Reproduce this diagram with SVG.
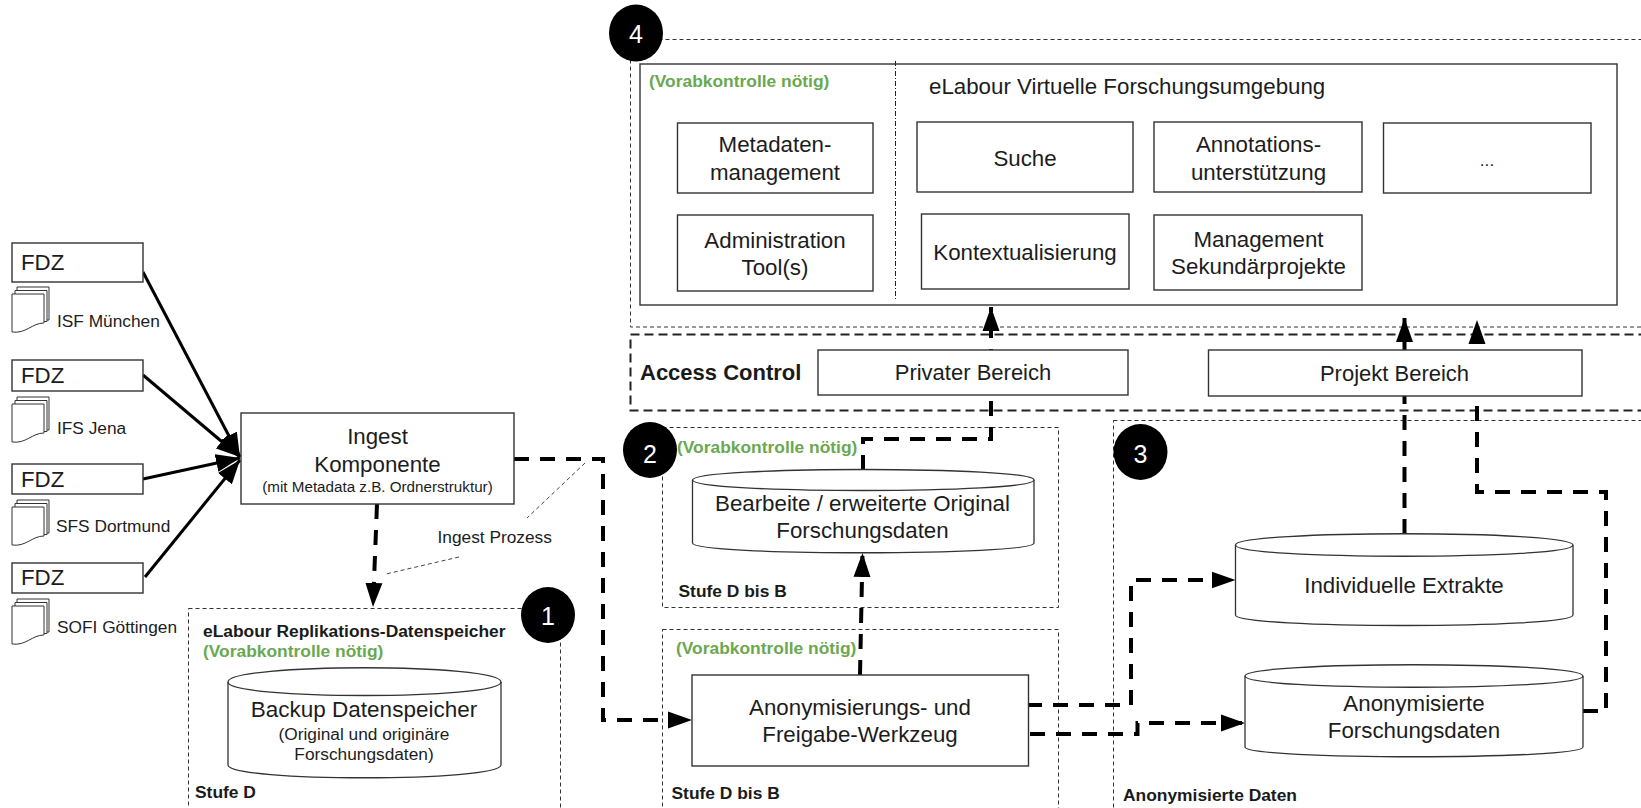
<svg xmlns="http://www.w3.org/2000/svg" width="1641" height="808" viewBox="0 0 1641 808">
<style>
text{font-family:"Liberation Sans",Arial,sans-serif;fill:#1c1c1c}
.m{text-anchor:middle}
.t22{font-size:22.300px}
.t17{font-size:17.300px}
.b{font-weight:bold;font-size:17.400px;fill:#1a1a1a}
.g{font-weight:bold;font-size:17.400px;fill:#6aa84f}
.box{fill:#fff;stroke:#333;stroke-width:1.4}
.zone{fill:none;stroke:#333;stroke-width:1;stroke-dasharray:4 3}
.ac{fill:none;stroke:#222;stroke-width:2;stroke-dasharray:9 5}
.cyl{fill:#fff;stroke:#333;stroke-width:1.3}
.sheet{fill:#fff;stroke:#333;stroke-width:1}
.solid{fill:none;stroke:#000;stroke-width:3;marker-end:url(#ah)}
.dash{fill:none;stroke:#000;stroke-width:4;stroke-dasharray:15 11;marker-end:url(#ah2)}
.thin{fill:none;stroke:#444;stroke-width:1;stroke-dasharray:4 3}
.num{fill:#fff;font-size:25px;text-anchor:middle}
</style>
<defs>
<marker id="ah" markerUnits="userSpaceOnUse" markerWidth="24" markerHeight="18" refX="24" refY="9" orient="auto"><path d="M0 0L24 9L0 18Z" fill="#000"/></marker>
<marker id="ah2" markerUnits="userSpaceOnUse" markerWidth="24" markerHeight="18" refX="24" refY="9" orient="auto"><path d="M0 0.500L24 9L0 17.500Z" fill="#000"/></marker>
<g id="doc">
<path class="sheet" d="M5 0H37V33H5Z"/>
<path class="sheet" d="M3 3.500H35V34.500H3Z"/>
<path class="sheet" d="M0 7H32V36C20 36 14 47 0 45Z"/>
</g>
</defs>

<g id="zones">
<rect id="zone-4" class="zone" x="630.500" y="39.500" width="1030" height="287.500"/>
<rect id="zone-access" class="ac" x="630.500" y="334.500" width="1030" height="76"/>
<rect id="zone-1" class="zone" x="188.500" y="608.500" width="372" height="220"/>
<rect id="zone-2" class="zone" x="662.500" y="427.500" width="396" height="180"/>
<rect id="zone-2b" class="zone" x="662.500" y="629.500" width="396" height="200"/>
<rect id="zone-3" class="zone" x="1113.500" y="420.500" width="550" height="410"/>
</g>

<g id="connectors">
<path class="solid" d="M143 272L240 457"/>
<path class="solid" d="M143 375L240 457"/>
<path class="solid" d="M143 479L240 458"/>
<path class="solid" d="M145 577L240 460"/>
<path class="dash" d="M514 459H603V720H692"/>
<path class="dash" d="M377 504L373 607"/>
<path class="dash" d="M863 470V439H991V307"/>
<path class="dash" d="M860 675L862.500 553"/>
<path class="dash" d="M1027 705H1131V580H1235.500"/>
<path class="dash" d="M1030 734H1137.500V723H1245"/>
<path class="dash" d="M1583 711H1606V492H1477V320"/>
<path class="dash" d="M1404.500 534V318"/>
<path class="thin" d="M585 463L527 518"/>
<path class="thin" d="M459 557L386 574"/>
</g>

<g id="fdz-1"><rect class="box" x="12" y="243" width="131" height="39"/><text class="t22" x="21" y="270">FDZ</text><use href="#doc" x="12" y="287"/><text class="t17" x="57" y="327">ISF München</text></g>
<g id="fdz-2"><rect class="box" x="12" y="360" width="131" height="31"/><text class="t22" x="21" y="383">FDZ</text><use href="#doc" x="12" y="397"/><text class="t17" x="57" y="434">IFS Jena</text></g>
<g id="fdz-3"><rect class="box" x="12" y="464" width="131" height="30"/><text class="t22" x="21" y="487">FDZ</text><use href="#doc" x="12" y="500"/><text class="t17" x="56" y="532">SFS Dortmund</text></g>
<g id="fdz-4"><rect class="box" x="12" y="563" width="131" height="30"/><text class="t22" x="21" y="585">FDZ</text><use href="#doc" x="12" y="599"/><text class="t17" x="57" y="633">SOFI Göttingen</text></g>

<g id="ingest"><rect class="box" x="241" y="413" width="273" height="91"/><text class="t22 m" x="377.500" y="444">Ingest</text><text class="t22 m" x="377.500" y="472">Komponente</text><text class="m" font-size="15.200" x="377.500" y="492">(mit Metadata z.B. Ordnerstruktur)</text></g>
<g id="ingest-prozess"><text class="t17" x="437.500" y="543">Ingest Prozess</text></g>

<g id="backup"><path class="cyl" d="M228 682C228 663 501 663 501 682V765C501 782 228 782 228 765Z"/><path class="cyl" style="fill:none" d="M228 682C228 700 501 700 501 682"/><text class="m" font-size="22.500" x="364" y="717">Backup Datenspeicher</text><text class="t17 m" x="364" y="740">(Original und originäre</text><text class="t17 m" x="364" y="760">Forschungsdaten)</text></g>
<g id="label-1"><text class="b" x="203" y="637">eLabour Replikations-Datenspeicher</text><text class="g" x="203" y="657">(Vorabkontrolle nötig)</text><text class="b" x="195" y="798">Stufe D</text></g>

<g id="platform"><rect class="box" x="640" y="64" width="977" height="241"/><path d="M895.500 61V300" stroke="#222" fill="none" stroke-dasharray="5 2 1 2"/><text class="g" x="649" y="87">(Vorabkontrolle nötig)</text><text class="t22" x="929" y="94">eLabour Virtuelle Forschungsumgebung</text></g>
<g id="metadaten"><rect class="box" x="677.500" y="123" width="195.500" height="70"/><text class="t22 m" x="775" y="152">Metadaten-</text><text class="t22 m" x="775" y="180">management</text></g>
<g id="administration"><rect class="box" x="677.500" y="215" width="195.500" height="76"/><text class="t22 m" x="775" y="248">Administration</text><text class="t22 m" x="775" y="275">Tool(s)</text></g>
<g id="suche"><rect class="box" x="917" y="122" width="216" height="70"/><text class="t22 m" x="1025" y="166">Suche</text></g>
<g id="kontext"><rect class="box" x="921.500" y="214" width="207.500" height="75"/><text class="t22 m" x="1025" y="260">Kontextualisierung</text></g>
<g id="annotation"><rect class="box" x="1154" y="122" width="208" height="70"/><text class="t22 m" x="1258.500" y="152">Annotations-</text><text class="t22 m" x="1258.500" y="180">unterstützung</text></g>
<g id="management"><rect class="box" x="1154" y="215" width="208" height="75"/><text class="t22 m" x="1258.500" y="247">Management</text><text class="t22 m" x="1258.500" y="274">Sekundärprojekte</text></g>
<g id="more"><rect class="box" x="1383.500" y="123" width="207.500" height="70"/><text class="t17 m" x="1487" y="166">...</text></g>

<g id="access"><text x="640" y="380" style="font-weight:bold;font-size:22px;fill:#1a1a1a">Access Control</text></g>
<g id="privat"><rect class="box" x="818" y="350" width="310" height="45"/><text class="m" font-size="22" x="973" y="380">Privater Bereich</text></g>
<g id="projekt"><rect class="box" x="1208.500" y="350" width="373.500" height="46"/><text class="m" font-size="22" x="1394.500" y="381">Projekt Bereich</text></g>

<g id="bearbeite"><path class="cyl" d="M692.500 480C692.500 466 1034 466 1034 480V543C1034 556 692.500 556 692.500 543Z"/><path class="cyl" style="fill:none" d="M692.500 480C692.500 494 1034 494 1034 480"/><text class="t22 m" x="862.500" y="511">Bearbeite / erweiterte Original</text><text class="t22 m" x="862.500" y="538">Forschungsdaten</text></g>
<g id="label-2"><text class="g" x="677" y="453">(Vorabkontrolle nötig)</text><text class="b" x="678.500" y="597">Stufe D bis B</text></g>
<g id="anonym-tool"><rect class="box" x="692" y="675" width="336.500" height="91"/><text class="t22 m" x="860" y="715">Anonymisierungs- und</text><text class="t22 m" x="860" y="742">Freigabe-Werkzeug</text></g>
<g id="label-2b"><text class="g" x="676" y="654">(Vorabkontrolle nötig)</text><text class="b" x="671.500" y="799">Stufe D bis B</text></g>
<g id="extrakte"><path class="cyl" d="M1235.500 545C1235.500 530 1573 530 1573 545V615C1573 629 1235.500 629 1235.500 615Z"/><path class="cyl" style="fill:none" d="M1235.500 545C1235.500 560 1573 560 1573 545"/><text class="t22 m" x="1404" y="593">Individuelle Extrakte</text></g>
<g id="anonym-daten"><path class="cyl" d="M1245 676C1245 661 1583 661 1583 676V747C1583 760 1245 760 1245 747Z"/><path class="cyl" style="fill:none" d="M1245 676C1245 691 1583 691 1583 676"/><text class="t22 m" x="1414" y="711">Anonymisierte</text><text class="t22 m" x="1414" y="738">Forschungsdaten</text></g>
<g id="label-3"><text class="b" x="1123" y="801">Anonymisierte Daten</text></g>

<g id="badge-1"><ellipse cx="548" cy="615" rx="27" ry="28" fill="#000"/><text class="num" x="548" y="625">1</text></g>
<g id="badge-2"><ellipse cx="650" cy="450" rx="27" ry="28" fill="#000"/><text class="num" x="650" y="463">2</text></g>
<g id="badge-3"><ellipse cx="1140.500" cy="452" rx="27" ry="28" fill="#000"/><text class="num" x="1140.500" y="463">3</text></g>
<g id="badge-4"><ellipse cx="636" cy="33" rx="27" ry="28.500" fill="#000"/><text class="num" x="636" y="43">4</text></g>
</svg>
